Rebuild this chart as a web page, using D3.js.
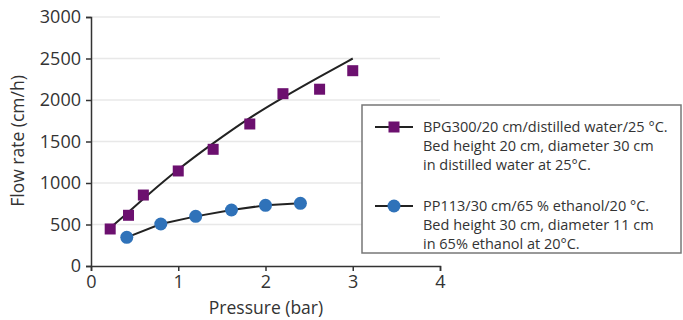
<!DOCTYPE html>
<html>
<head>
<meta charset="utf-8">
<script src="https://cdn.jsdelivr.net/npm/d3@7"></script>
<style>
  body { margin: 0; background: #fff; }
  text { font-family: "Open Sans", sans-serif; fill: #333; }
</style>
</head>
<body>
<div id="chart"></div>
<script>
// BPG300 measured points
var bpgPressure = [0.22, 0.43, 0.6, 1.0, 1.4, 1.82, 2.2, 2.62, 3.0];
var bpgFlow = [446, 611, 855, 1145, 1406, 1711, 2076, 2130, 2353];
// BPG300 fitted curve
var fitPressure = [0.22, 0.43, 0.6, 1.0, 1.4, 1.82, 2.2, 2.62, 3.0];
var fitFlow = [460, 650, 810, 1170, 1480, 1790, 2030, 2280, 2500];
// PP113 measured points
var ppPressure = [0.41, 0.8, 1.2, 1.61, 2.0, 2.4];
var ppFlow = [345, 506, 598, 675, 731, 755];

var xTicks = [0, 1, 2, 3, 4];
var yTicks = [0, 500, 1000, 1500, 2000, 2500, 3000];
var legendLines = [
  ["BPG300/20 cm/distilled water/25 °C.", "Bed height 20 cm, diameter 30 cm", "in distilled water at 25°C."],
  ["PP113/30 cm/65 % ethanol/20 °C.", "Bed height 30 cm, diameter 11 cm", "in 65% ethanol at 20°C."]
];

var width = 683, height = 320;
var svg = d3.select("#chart").append("svg")
  .attr("width", width)
  .attr("height", height);

var x = d3.scaleLinear().domain([0, 4]).range([91, 440]);
var y = d3.scaleLinear().domain([0, 3000]).range([266, 17]);

// grid
svg.append("g")
  .selectAll("line")
  .data(yTicks.slice(1))
  .join("line")
  .attr("x1", x(0)).attr("x2", x(4))
  .attr("y1", function(d) { return y(d); })
  .attr("y2", function(d) { return y(d); })
  .attr("stroke", "#e8e8e8")
  .attr("stroke-width", 1.5);

// axes
var yAxis = svg.append("g")
  .attr("transform", "translate(" + x(0) + ",0)")
  .call(d3.axisLeft(y).tickValues(yTicks).tickFormat(d3.format("d")).tickSize(5).tickPadding(5));
var xAxis = svg.append("g")
  .attr("transform", "translate(0," + y(0) + ")")
  .call(d3.axisBottom(x).tickValues(xTicks).tickFormat(d3.format("d")).tickSize(5).tickPadding(4));

[xAxis, yAxis].forEach(function(ax) {
  ax.select(".domain").attr("stroke", "#333").attr("stroke-width", 1.5);
  ax.selectAll(".tick line").attr("stroke", "#333").attr("stroke-width", 1.5);
  ax.selectAll(".tick text")
    .style("font-family", "'Open Sans', sans-serif")
    .style("font-size", "18px")
    .attr("fill", "#333");
});

svg.append("text")
  .attr("x", 266).attr("y", 314)
  .attr("text-anchor", "middle")
  .style("font-size", "17.5px")
  .text("Pressure (bar)");

svg.append("text")
  .attr("transform", "translate(24,141) rotate(-90)")
  .attr("text-anchor", "middle")
  .style("font-size", "17.5px")
  .text("Flow rate (cm/h)");

var line = d3.line()
  .x(function(d) { return x(d[0]); })
  .y(function(d) { return y(d[1]); });

// BPG fitted curve
svg.append("path")
  .datum(d3.zip(fitPressure, fitFlow))
  .attr("d", line.curve(d3.curveBasis))
  .attr("fill", "none")
  .attr("stroke", "#222")
  .attr("stroke-width", 2);

// PP line
svg.append("path")
  .datum(d3.zip(ppPressure, ppFlow))
  .attr("d", line.curve(d3.curveLinear))
  .attr("fill", "none")
  .attr("stroke", "#222")
  .attr("stroke-width", 2);

var purple = "#6c106f", blue = "#2f72b9";

svg.append("g")
  .selectAll("rect")
  .data(d3.zip(bpgPressure, bpgFlow))
  .join("rect")
  .attr("x", function(d) { return x(d[0]) - 5.5; })
  .attr("y", function(d) { return y(d[1]) - 5.5; })
  .attr("width", 11).attr("height", 11)
  .attr("fill", purple);

svg.append("g")
  .selectAll("circle")
  .data(d3.zip(ppPressure, ppFlow))
  .join("circle")
  .attr("cx", function(d) { return x(d[0]); })
  .attr("cy", function(d) { return y(d[1]); })
  .attr("r", 6.5)
  .attr("fill", blue);

// legend
var lg = svg.append("g");
lg.append("rect")
  .attr("x", 362).attr("y", 105)
  .attr("width", 319).attr("height", 148)
  .attr("fill", "#fff")
  .attr("stroke", "#777")
  .attr("stroke-width", 1.5);

var entryY = [127, 206];
legendLines.forEach(function(lines, i) {
  var cy = entryY[i];
  lg.append("line")
    .attr("x1", 375).attr("x2", 413)
    .attr("y1", cy).attr("y2", cy)
    .attr("stroke", "#222").attr("stroke-width", 2);
  if (i === 0) {
    lg.append("rect").attr("x", 388.5).attr("y", cy - 5.5)
      .attr("width", 11).attr("height", 11).attr("fill", purple);
  } else {
    lg.append("circle").attr("cx", 394).attr("cy", cy)
      .attr("r", 6.5).attr("fill", blue);
  }
  lg.append("text")
    .attr("x", 423).attr("y", cy + 5)
    .style("font-size", "14.5px")
    .selectAll("tspan")
    .data(lines)
    .join("tspan")
    .attr("x", 423)
    .attr("dy", function(d, j) { return j === 0 ? 0 : 19; })
    .text(function(d) { return d; });
});
</script>
</body>
</html>
